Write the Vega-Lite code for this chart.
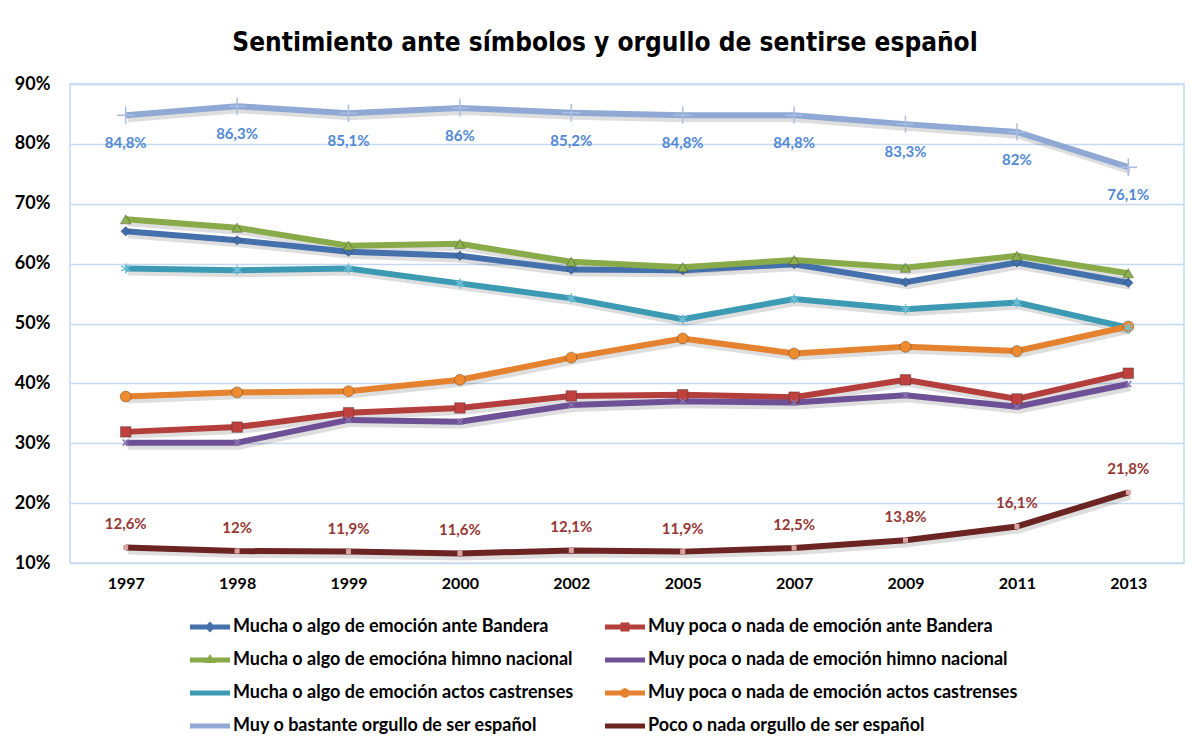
{
  "$schema": "https://vega.github.io/schema/vega-lite/v6.json",
  "autosize": {"type": "none"},
  "width": 1114,
  "height": 479,
  "padding": {"left": 70, "top": 84, "right": 11, "bottom": 184},
  "background": "white",
  "config": {
    "font": "Lato",
    "view": {"stroke": "#C5D9F1", "strokeWidth": 1.5},
    "locale": {"number": {"decimal": ",", "thousands": ".", "grouping": [3], "currency": ["", " €"]}}
  },
  "title": {
    "text": "Sentimiento ante símbolos y orgullo de sentirse español",
    "font": "DejaVu Sans Condensed, Roboto Condensed, Roboto",
    "fontSize": 26,
    "fontWeight": "bold",
    "color": "#000000",
    "anchor": "middle",
    "dx": -22,
    "offset": 19
  },
  "data": {"values": [
    {"s": "Mucha o algo de emoción ante Bandera", "year": "1997", "v": 0.654},
    {"s": "Mucha o algo de emoción ante Bandera", "year": "1998", "v": 0.639},
    {"s": "Mucha o algo de emoción ante Bandera", "year": "1999", "v": 0.620},
    {"s": "Mucha o algo de emoción ante Bandera", "year": "2000", "v": 0.613},
    {"s": "Mucha o algo de emoción ante Bandera", "year": "2002", "v": 0.590},
    {"s": "Mucha o algo de emoción ante Bandera", "year": "2005", "v": 0.589},
    {"s": "Mucha o algo de emoción ante Bandera", "year": "2007", "v": 0.599},
    {"s": "Mucha o algo de emoción ante Bandera", "year": "2009", "v": 0.569},
    {"s": "Mucha o algo de emoción ante Bandera", "year": "2011", "v": 0.602},
    {"s": "Mucha o algo de emoción ante Bandera", "year": "2013", "v": 0.568},
    {"s": "Muy poca o nada de emoción ante Bandera", "year": "1997", "v": 0.319},
    {"s": "Muy poca o nada de emoción ante Bandera", "year": "1998", "v": 0.327},
    {"s": "Muy poca o nada de emoción ante Bandera", "year": "1999", "v": 0.351},
    {"s": "Muy poca o nada de emoción ante Bandera", "year": "2000", "v": 0.359},
    {"s": "Muy poca o nada de emoción ante Bandera", "year": "2002", "v": 0.379},
    {"s": "Muy poca o nada de emoción ante Bandera", "year": "2005", "v": 0.381},
    {"s": "Muy poca o nada de emoción ante Bandera", "year": "2007", "v": 0.377},
    {"s": "Muy poca o nada de emoción ante Bandera", "year": "2009", "v": 0.406},
    {"s": "Muy poca o nada de emoción ante Bandera", "year": "2011", "v": 0.374},
    {"s": "Muy poca o nada de emoción ante Bandera", "year": "2013", "v": 0.417},
    {"s": "Mucha o algo de emocióna himno nacional", "year": "1997", "v": 0.674},
    {"s": "Mucha o algo de emocióna himno nacional", "year": "1998", "v": 0.660},
    {"s": "Mucha o algo de emocióna himno nacional", "year": "1999", "v": 0.630},
    {"s": "Mucha o algo de emocióna himno nacional", "year": "2000", "v": 0.633},
    {"s": "Mucha o algo de emocióna himno nacional", "year": "2002", "v": 0.603},
    {"s": "Mucha o algo de emocióna himno nacional", "year": "2005", "v": 0.594},
    {"s": "Mucha o algo de emocióna himno nacional", "year": "2007", "v": 0.606},
    {"s": "Mucha o algo de emocióna himno nacional", "year": "2009", "v": 0.593},
    {"s": "Mucha o algo de emocióna himno nacional", "year": "2011", "v": 0.613},
    {"s": "Mucha o algo de emocióna himno nacional", "year": "2013", "v": 0.584},
    {"s": "Muy poca o nada de emoción himno nacional", "year": "1997", "v": 0.301},
    {"s": "Muy poca o nada de emoción himno nacional", "year": "1998", "v": 0.301},
    {"s": "Muy poca o nada de emoción himno nacional", "year": "1999", "v": 0.339},
    {"s": "Muy poca o nada de emoción himno nacional", "year": "2000", "v": 0.336},
    {"s": "Muy poca o nada de emoción himno nacional", "year": "2002", "v": 0.364},
    {"s": "Muy poca o nada de emoción himno nacional", "year": "2005", "v": 0.370},
    {"s": "Muy poca o nada de emoción himno nacional", "year": "2007", "v": 0.368},
    {"s": "Muy poca o nada de emoción himno nacional", "year": "2009", "v": 0.380},
    {"s": "Muy poca o nada de emoción himno nacional", "year": "2011", "v": 0.361},
    {"s": "Muy poca o nada de emoción himno nacional", "year": "2013", "v": 0.399},
    {"s": "Mucha o algo de emoción actos castrenses", "year": "1997", "v": 0.592},
    {"s": "Mucha o algo de emoción actos castrenses", "year": "1998", "v": 0.589},
    {"s": "Mucha o algo de emoción actos castrenses", "year": "1999", "v": 0.592},
    {"s": "Mucha o algo de emoción actos castrenses", "year": "2000", "v": 0.567},
    {"s": "Mucha o algo de emoción actos castrenses", "year": "2002", "v": 0.542},
    {"s": "Mucha o algo de emoción actos castrenses", "year": "2005", "v": 0.507},
    {"s": "Mucha o algo de emoción actos castrenses", "year": "2007", "v": 0.541},
    {"s": "Mucha o algo de emoción actos castrenses", "year": "2009", "v": 0.524},
    {"s": "Mucha o algo de emoción actos castrenses", "year": "2011", "v": 0.535},
    {"s": "Mucha o algo de emoción actos castrenses", "year": "2013", "v": 0.493},
    {"s": "Muy poca o nada de emoción actos castrenses", "year": "1997", "v": 0.378},
    {"s": "Muy poca o nada de emoción actos castrenses", "year": "1998", "v": 0.385},
    {"s": "Muy poca o nada de emoción actos castrenses", "year": "1999", "v": 0.387},
    {"s": "Muy poca o nada de emoción actos castrenses", "year": "2000", "v": 0.406},
    {"s": "Muy poca o nada de emoción actos castrenses", "year": "2002", "v": 0.443},
    {"s": "Muy poca o nada de emoción actos castrenses", "year": "2005", "v": 0.475},
    {"s": "Muy poca o nada de emoción actos castrenses", "year": "2007", "v": 0.450},
    {"s": "Muy poca o nada de emoción actos castrenses", "year": "2009", "v": 0.461},
    {"s": "Muy poca o nada de emoción actos castrenses", "year": "2011", "v": 0.454},
    {"s": "Muy poca o nada de emoción actos castrenses", "year": "2013", "v": 0.495},
    {"s": "Muy o bastante orgullo de ser español", "year": "1997", "v": 0.848},
    {"s": "Muy o bastante orgullo de ser español", "year": "1998", "v": 0.863},
    {"s": "Muy o bastante orgullo de ser español", "year": "1999", "v": 0.851},
    {"s": "Muy o bastante orgullo de ser español", "year": "2000", "v": 0.86},
    {"s": "Muy o bastante orgullo de ser español", "year": "2002", "v": 0.852},
    {"s": "Muy o bastante orgullo de ser español", "year": "2005", "v": 0.848},
    {"s": "Muy o bastante orgullo de ser español", "year": "2007", "v": 0.848},
    {"s": "Muy o bastante orgullo de ser español", "year": "2009", "v": 0.833},
    {"s": "Muy o bastante orgullo de ser español", "year": "2011", "v": 0.82},
    {"s": "Muy o bastante orgullo de ser español", "year": "2013", "v": 0.761},
    {"s": "Poco o nada orgullo de ser español", "year": "1997", "v": 0.126},
    {"s": "Poco o nada orgullo de ser español", "year": "1998", "v": 0.12},
    {"s": "Poco o nada orgullo de ser español", "year": "1999", "v": 0.119},
    {"s": "Poco o nada orgullo de ser español", "year": "2000", "v": 0.116},
    {"s": "Poco o nada orgullo de ser español", "year": "2002", "v": 0.121},
    {"s": "Poco o nada orgullo de ser español", "year": "2005", "v": 0.119},
    {"s": "Poco o nada orgullo de ser español", "year": "2007", "v": 0.125},
    {"s": "Poco o nada orgullo de ser español", "year": "2009", "v": 0.138},
    {"s": "Poco o nada orgullo de ser español", "year": "2011", "v": 0.161},
    {"s": "Poco o nada orgullo de ser español", "year": "2013", "v": 0.218}
  ]},
  "encoding": {
    "x": {
      "field": "year", "type": "ordinal",
      "scale": {"type": "point", "padding": 0.5},
      "axis": {"title": null, "domain": false, "ticks": false, "grid": false, "labelAngle": 0,
               "labelFont": "Lato", "labelFontSize": 16, "labelFontWeight": "bold", "labelColor": "#000000", "labelPadding": 12}
    },
    "y": {
      "field": "v", "type": "quantitative",
      "scale": {"domain": [0.1, 0.9], "nice": false, "zero": false},
      "axis": {"title": null, "domain": false, "ticks": false, "values": [0.1, 0.2, 0.3, 0.4, 0.5, 0.6, 0.7, 0.8, 0.9],
               "format": ".0%", "gridColor": "#C5D9F1", "gridWidth": 1.5,
               "labelFont": "Lato", "labelFontSize": 18, "labelFontWeight": "bold", "labelColor": "#000000", "labelPadding": 20}
    }
  },
  "layer": [
    {
      "mark": {"type": "line", "strokeWidth": 6, "color": "#000000", "opacity": 0.13, "xOffset": 2, "yOffset": 4},
      "encoding": {"detail": {"field": "s"}}
    },
    {
      "mark": {"type": "line", "strokeWidth": 6},
      "encoding": {
        "color": {
          "field": "s", "type": "nominal",
          "scale": {
            "domain": ["Mucha o algo de emoción ante Bandera", "Muy poca o nada de emoción ante Bandera", "Mucha o algo de emocióna himno nacional", "Muy poca o nada de emoción himno nacional", "Mucha o algo de emoción actos castrenses", "Muy poca o nada de emoción actos castrenses", "Muy o bastante orgullo de ser español", "Poco o nada orgullo de ser español"],
            "range": ["#4470AC", "#B43E3B", "#88AA48", "#6E5096", "#3D9AB3", "#E5822F", "#8FA9D4", "#6B2422"]
          },
          "legend": {
            "title": null,
            "orient": "none",
            "legendX": 130,
            "legendY": 533,
            "columns": 2,
            "direction": "horizontal",
            "columnPadding": 31,
            "rowPadding": 14,
            "padding": 0,
            "symbolSize": 400,
            "labelOffset": 13,
            "labelFont": "Lato",
            "labelFontSize": 18,
            "labelFontWeight": "bold",
            "labelColor": "#000000",
            "labelLimit": 500,
            "encode": {
              "symbols": {
                "update": {
                  "shape": {"signal": "['M-2,-0.26H2V0.26H-2Z M0,-0.55L0.55,0L0,0.55L-0.55,0Z', 'M-2,-0.26H2V0.26H-2Z M-0.45,-0.45H0.45V0.45H-0.45Z', 'M-2,-0.26H2V0.26H-2Z M0,-0.6L0.55,0.3H-0.55Z', 'M-2,-0.26H2V0.26H-2Z', 'M-2,-0.26H2V0.26H-2Z', 'M-2,-0.26H2V0.26H-2Z M0,-0.5L0.35,-0.35L0.5,0L0.35,0.35L0,0.5L-0.35,0.35L-0.5,0L-0.35,-0.35Z', 'M-2,-0.26H2V0.26H-2Z', 'M-2,-0.26H2V0.26H-2Z'][indexof(domain('color'), datum.value)]"},
                  "fill": {"signal": "scale('color', datum.value)"},
                  "fillOpacity": {"value": 1},
                  "strokeWidth": {"value": 0}
                }
              }
            }
          }
        }
      }
    },
    {
      "transform": [{"filter": {"field": "s", "equal": "Mucha o algo de emoción ante Bandera"}}],
      "mark": {"type": "point", "shape": "diamond", "filled": true, "opacity": 1, "color": "#3F6DAD", "size": 90, "stroke": "#333333", "strokeWidth": 0.4}
    },
    {
      "transform": [{"filter": {"field": "s", "equal": "Muy poca o nada de emoción ante Bandera"}}],
      "mark": {"type": "point", "shape": "square", "filled": true, "opacity": 1, "color": "#C0403D", "size": 110, "stroke": "#333333", "strokeWidth": 0.4}
    },
    {
      "transform": [{"filter": {"field": "s", "equal": "Mucha o algo de emocióna himno nacional"}}],
      "mark": {"type": "point", "shape": "triangle-up", "filled": true, "opacity": 1, "color": "#8DB04C", "size": 110, "stroke": "#333333", "strokeWidth": 0.4}
    },
    {
      "transform": [{"filter": {"field": "s", "equal": "Muy poca o nada de emoción actos castrenses"}}],
      "mark": {"type": "point", "shape": "circle", "filled": true, "opacity": 1, "color": "#F08A2E", "size": 120, "stroke": "#333333", "strokeWidth": 0.4}
    },
    {
      "transform": [{"filter": {"field": "s", "equal": "Poco o nada orgullo de ser español"}}],
      "mark": {"type": "point", "shape": "square", "filled": true, "opacity": 1, "color": "#D9A3A0", "size": 25}
    },
    {
      "transform": [{"filter": {"field": "s", "equal": "Muy poca o nada de emoción himno nacional"}}],
      "mark": {"type": "point", "shape": "M-0.6,-0.6L0.6,0.6M0.6,-0.6L-0.6,0.6", "filled": false, "opacity": 1, "color": "#8A73AD", "size": 100, "strokeWidth": 1.5}
    },
    {
      "transform": [{"filter": {"field": "s", "equal": "Mucha o algo de emoción actos castrenses"}}],
      "mark": {"type": "point", "shape": "M0,-1V1M-0.87,-0.5L0.87,0.5M-0.87,0.5L0.87,-0.5", "filled": false, "opacity": 1, "color": "#6EC0D6", "size": 100, "strokeWidth": 1.5}
    },
    {
      "transform": [{"filter": {"field": "s", "equal": "Muy o bastante orgullo de ser español"}}],
      "mark": {"type": "point", "shape": "M-1,0H1M0,-1V1", "filled": false, "opacity": 1, "color": "#A9BEE2", "size": 300, "strokeWidth": 1.5}
    },
    {
      "transform": [{"filter": {"field": "s", "equal": "Muy o bastante orgullo de ser español"}}],
      "mark": {"type": "text", "dy": 28, "font": "Lato", "fontSize": 15, "fontWeight": "bold", "color": "#5288D4"},
      "encoding": {"text": {"field": "v", "type": "quantitative", "format": ".1~%"}}
    },
    {
      "transform": [{"filter": {"field": "s", "equal": "Poco o nada orgullo de ser español"}}],
      "mark": {"type": "text", "dy": -23, "font": "Lato", "fontSize": 15, "fontWeight": "bold", "color": "#953735"},
      "encoding": {"text": {"field": "v", "type": "quantitative", "format": ".1~%"}}
    }
  ]
}
